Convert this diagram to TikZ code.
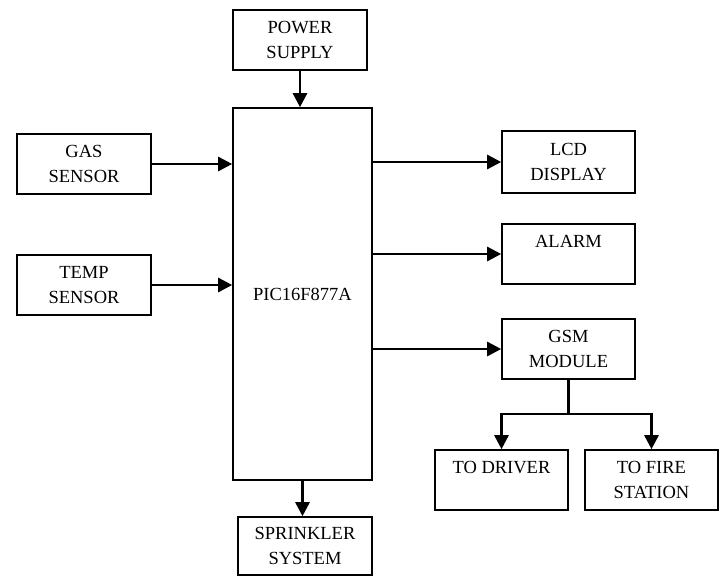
\documentclass[tikz,border=0pt]{standalone}
\usepackage{fontspec}
\setmainfont{Liberation Serif}
\usetikzlibrary{positioning,calc,arrows.meta}
\tikzset{
  block/.style={rectangle,draw,line width=1.6pt,minimum width=134pt,minimum height=60pt,
                inner sep=0,align=center,font=\fontsize{18.5}{25}\selectfont},
  mcu/.style={block,minimum width=139pt,minimum height=372pt},
  link/.style={line width=2.6pt},
  arrow/.style={link,-{Triangle[length=14pt,width=14pt]}},
}

\begin{document}
\begin{tikzpicture}[x=1pt,y=-1pt]
  \useasboundingbox (0,0) rectangle (724,576);
  % controller in the middle, inputs on the left, outputs on the right
  \node[mcu] (pic) at (302.5,294) {PIC16F877A};
  \node[block] (power) at (300,40) {POWER\\SUPPLY};
  \node[block] (gas) at (84,164) {GAS\\SENSOR};
  \node[block] (temp) at (84,285) {TEMP\\SENSOR};
  \node[block,minimum width=133pt,minimum height=62pt] (lcd) at (568.5,162) {LCD\\DISPLAY};
  \node[block,minimum width=133pt] (alarm) at (568.5,254) {ALARM\\\mbox{}};
  \node[block,minimum width=133pt] (gsm) at (568.5,349) {GSM\\MODULE};
  \node[block,minimum width=133pt] (driver) at (501.5,480) {TO DRIVER\\\mbox{}};
  \node[block,minimum width=133pt] (fire) at (651.5,480) {TO FIRE\\STATION};
  \node[block,minimum height=58pt] (sprinkler) at (305,546) {SPRINKLER\\SYSTEM};
  % connectors
  \draw[arrow] (power.south) -- (power.south |- pic.north);
  \draw[arrow] (gas.east) -- (gas.east -| pic.west);
  \draw[arrow] (temp.east) -- (temp.east -| pic.west);
  \draw[arrow] (lcd.west -| pic.east) -- (lcd.west);
  \draw[arrow] (alarm.west -| pic.east) -- (alarm.west);
  \draw[arrow] (gsm.west -| pic.east) -- (gsm.west);
  \draw[arrow] (pic.south) -- (pic.south |- sprinkler.north);
  % gsm branches to the two receivers
  \coordinate (split) at ($(gsm.south)+(0,34)$);
  \draw[link] (gsm.south) -- (split);
  \draw[arrow] (split) -| (driver.north);
  \draw[arrow] (split) -| (fire.north);
\end{tikzpicture}
\end{document}
